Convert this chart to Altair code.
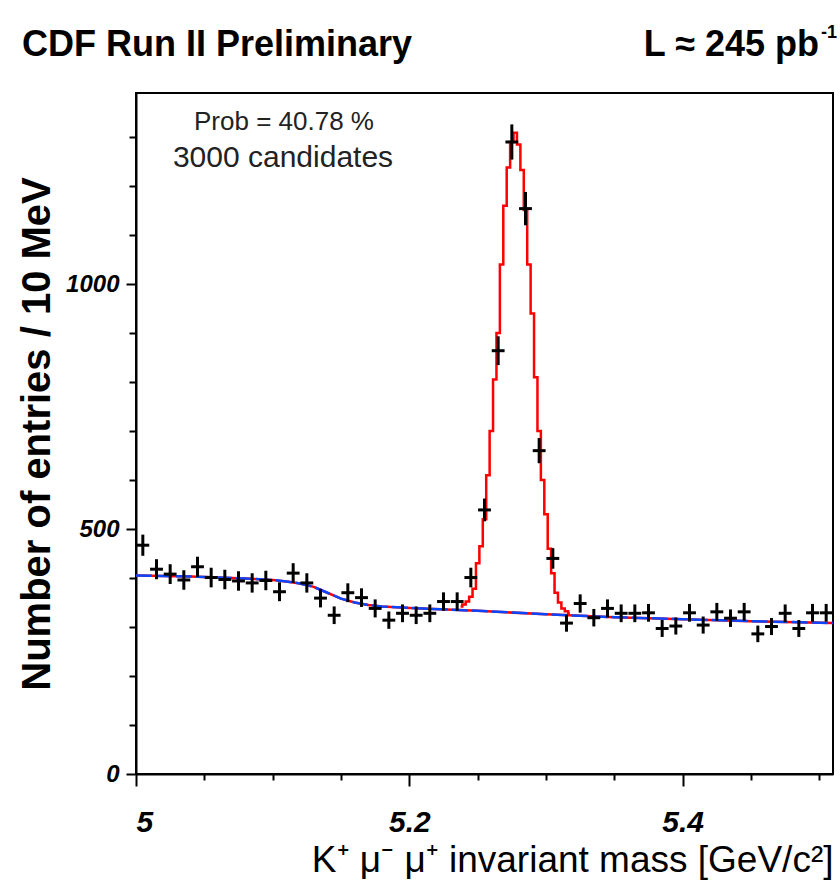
import altair as alt
import numpy as np
import pandas as pd

# B+ -> J/psi K+ candidates, 10 MeV bins starting at 5.00 GeV/c^2
bin_low = 5.00
bin_width = 0.01
entries = [467, 418, 408, 396, 423, 401, 397, 394, 390, 395,
           372, 410, 390, 359, 324, 370, 360, 338, 314, 328,
           324, 328, 352, 352, 401, 539, 864, 1290, 1154, 660,
           440, 308, 348, 319, 338, 328, 328, 329, 297, 302,
           329, 304, 331, 318, 331, 286, 301, 328, 297, 329, 329]
half_bin_bar = 0.0047

# Fitted background (linear + partially reconstructed shoulder)
bkg_mass = [5.000, 5.020, 5.040, 5.060, 5.080, 5.100, 5.110, 5.120, 5.130,
            5.140, 5.150, 5.160, 5.170, 5.180, 5.200, 5.250, 5.300, 5.350,
            5.400, 5.450, 5.510]
bkg_level = [405, 404, 403, 401, 399, 396, 393, 389, 382,
             370, 358, 350, 345, 342, 339, 333, 326, 320,
             316, 312, 308]

# Total fit (signal + background) across the peak, fine binning
peak_mass = [5.2375, 5.2400, 5.2425, 5.2450, 5.2475, 5.2500, 5.2525, 5.2550,
             5.2575, 5.2600, 5.2625, 5.2650, 5.2675, 5.2700, 5.2725, 5.2750,
             5.2775, 5.2800, 5.2825, 5.2850, 5.2875, 5.2900, 5.2925, 5.2950,
             5.2975, 5.3000, 5.3025, 5.3050, 5.3075, 5.3100, 5.3125, 5.3150,
             5.3175]
peak_level = [342, 346, 352, 362, 378, 430, 465, 520,
              610, 700, 805, 900, 1040, 1160, 1238, 1290,
              1309, 1285, 1233, 1151, 1040, 940, 810, 700,
              600, 530, 460, 410, 370, 350, 338, 332,
              328]

x_ticks = [5.00, 5.05, 5.10, 5.15, 5.20, 5.25, 5.30, 5.35, 5.40, 5.45, 5.50]
y_ticks = [0, 100, 200, 300, 400, 500, 600, 700, 800, 900, 1000, 1100, 1200, 1300]

W, H = 697, 681
FONT = "Liberation Sans"

hist = pd.DataFrame({
    "m": bin_low + bin_width * (np.arange(len(entries)) + 0.5),
    "v": entries,
})
bkg = pd.DataFrame({"m": bkg_mass, "v": bkg_level})
peak = pd.DataFrame({"m": peak_mass, "v": peak_level})

x_scale = alt.Scale(domain=[5.0, 5.51], nice=False, zero=False)
y_scale = alt.Scale(domain=[0, 1390], nice=False, zero=True)

major_x = "abs(round(datum.value*5) - datum.value*5) < 1e-6"
x_axis = alt.Axis(
    values=x_ticks,
    labelExpr=f"{major_x} ? format(datum.value, '~g') : ''",
    tickSize={"condition": {"test": major_x, "value": 12}, "value": 6},
    labelPadding=36, labelBaseline="middle",
    labelFont=FONT, labelFontSize=30,
    title="K\u207a \u03bc\u207b \u03bc\u207a invariant mass [GeV/c\u00b2]",
    titleFont=FONT, titleFontSize=37, titleFontWeight="normal",
    titleX=W, titleY=86, titleAlign="right", titleBaseline="middle",
)
y_axis = alt.Axis(
    values=y_ticks,
    labelExpr="datum.value % 500 == 0 ? format(datum.value, 'd') : ''",
    tickSize={"condition": {"test": "datum.value % 500 == 0", "value": 10}, "value": 7},
    labelPadding=7, labelBaseline="middle",
    labelFont=FONT, labelFontSize=24,
    title="Number of entries / 10 MeV",
    titleFont=FONT, titleFontSize=40, titleFontWeight="bold",
    titleX=-99, titleY=H / 2, titleAlign="center", titleBaseline="middle",
    titleAngle=270,
)

X = alt.X("m:Q", scale=x_scale, axis=x_axis)
Y = alt.Y("v:Q", scale=y_scale, axis=y_axis)

err = alt.Chart(hist).transform_calculate(
    lo="datum.v - sqrt(datum.v)", hi="datum.v + sqrt(datum.v)",
    ml=f"datum.m - {half_bin_bar}", mh=f"datum.m + {half_bin_bar}",
)
vbar = err.mark_rule(color="black", strokeWidth=3).encode(
    x=X, y=alt.Y("lo:Q", scale=y_scale, axis=y_axis), y2="hi:Q")
hbar = err.mark_rule(color="black", strokeWidth=3).encode(
    x=alt.X("ml:Q", scale=x_scale, axis=x_axis), x2="mh:Q", y=Y)

red_bkg = alt.Chart(bkg).mark_line(color="#ff0000", strokeWidth=2.5).encode(x=X, y=Y)
red_peak = alt.Chart(peak).mark_line(
    color="#ff0000", strokeWidth=2.5, interpolate="step").encode(x=X, y=Y)
blue = alt.Chart(bkg).mark_line(
    color="#0a46ff", strokeWidth=2.5, strokeDash=[16, 4]).encode(x=X, y=Y)

one = pd.DataFrame({"t": [0]})


def label(text, x, y, size, weight="normal", align="left", baseline="alphabetic",
          color="black"):
    return alt.Chart(one).mark_text(
        text=text, font=FONT, fontSize=size, fontWeight=weight,
        align=align, baseline=baseline, color=color,
    ).encode(x=alt.value(x), y=alt.value(y))


texts = [
    label("CDF Run II Preliminary", -114, -37, 36, "bold"),
    label("L \u2248 245 pb", 683, -37, 36, "bold", "right"),
    label("-1", 685, -55, 18, "bold"),
    label("Prob = 40.78 %", 148, 29, 26, align="center", baseline="middle", color="#222"),
    label("3000 candidates", 147, 65, 30, align="center", baseline="middle", color="#222"),
]

chart = alt.layer(red_bkg, red_peak, blue, vbar, hbar, *texts).properties(
    width=W, height=H,
    autosize=alt.AutoSizeParams(type="none"),
    padding={"left": 136, "top": 93, "right": 7, "bottom": 110},
    background="white",
).configure_view(
    stroke="black", strokeWidth=2,
).configure_axis(
    grid=False, domainColor="black", domainWidth=2, tickColor="black",
    tickWidth=2, labelFontWeight="bold",
    labelFontStyle="italic", labelColor="black", titleColor="black",
)

chart.save("out.html", embed_options={"renderer": "svg", "actions": False})
